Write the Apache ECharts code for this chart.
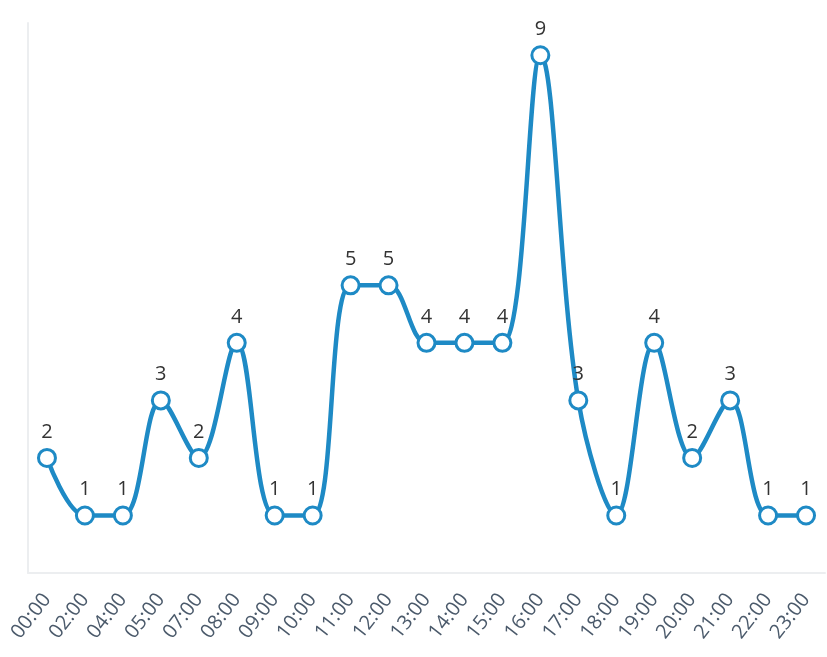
<!DOCTYPE html>
<html>
<head>
<meta charset="utf-8">
<script src="https://cdn.jsdelivr.net/npm/echarts@6/dist/echarts.min.js"></script>
<style>
  html, body { margin: 0; padding: 0; background: #ffffff; }
  #chart { width: 827px; height: 657px; }
</style>
</head>
<body>
<div id="chart"></div>
<script>
// Hourly counts
const hours = ['00:00','02:00','04:00','05:00','07:00','08:00','09:00','10:00','11:00','12:00','13:00','14:00','15:00','16:00','17:00','18:00','19:00','20:00','21:00','22:00','23:00'];
const counts = [2,1,1,3,2,4,1,1,5,5,4,4,4,9,3,1,4,2,3,1,1];

const chart = echarts.init(document.getElementById('chart'), null, { renderer: 'canvas' });
chart.setOption({
  animation: false,
  backgroundColor: '#ffffff',
  grid: { left: 28, right: 2, top: 23, bottom: 84, containLabel: false },
  xAxis: {
    type: 'category',
    data: hours,
    boundaryGap: true,
    axisLine: { show: true, lineStyle: { color: '#eceef0', width: 2 } },
    axisTick: { show: false },
    axisLabel: {
      rotate: 52,
      margin: 23,
      color: '#4b5a6b',
      fontSize: 20,
      fontFamily: 'Open Sans',
      interval: 0
    }
  },
  yAxis: {
    type: 'value',
    min: 0,
    max: 9.56,
    axisLine: { show: true, lineStyle: { color: '#eceef0', width: 2 } },
    axisTick: { show: false },
    axisLabel: { show: false },
    splitLine: { show: false }
  },
  series: [{
    type: 'line',
    data: counts,
    smooth: 0.35,
    symbol: 'circle',
    symbolSize: 17,
    lineStyle: { color: '#1e8ac5', width: 4.5 },
    itemStyle: { color: '#ffffff', borderColor: '#1e8ac5', borderWidth: 3 },
    label: {
      show: true,
      position: 'top',
      distance: 6,
      color: '#333333',
      fontSize: 20,
      fontFamily: 'Open Sans'
    }
  }]
});
</script>
</body>
</html>
